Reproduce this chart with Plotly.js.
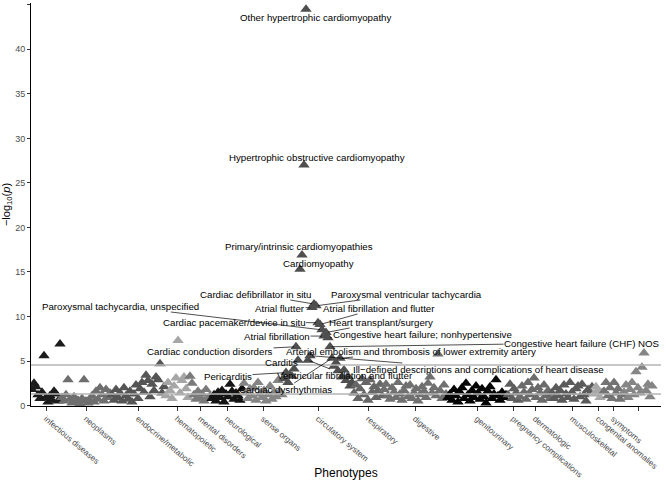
<!DOCTYPE html>
<html><head><meta charset="utf-8">
<script src="https://cdn.plot.ly/plotly-3.0.1.min.js"></script>
<style>html,body{margin:0;padding:0;background:#fff}#chart{width:666px;height:486px}</style>
</head><body><div id="chart"></div>
<script>
// ---------------- DATA ----------------
const categories = ["infectious diseases","neoplasms","endocrine/metabolic","hematopoietic","mental disorders","neurological","sense organs","circulatory system","respiratory","digestive","genitourinary","pregnancy complications","dermatologic","musculoskeletal","congenital anomalies","symptoms","injuries & poisonings"];

const infectious = [1.8, 2.5, 2.1, 1.2, 0.8, 1.5, 5.6, 0.9, 0.4, 1.1, 0.6, 1.6, 1.3, 0.5, 6.9];
const neoplasms = [0.9, 0.5, 1.2, 2.9, 0.7, 0.3, 1.0, 0.4, 0.6, 0.2, 0.8, 2.9, 0.5, 0.3, 0.6, 1.1, 0.4, 1.6, 0.7, 2.0, 1.2, 0.5, 1.8, 0.9, 1.4];
const endocrine = [1.2, 0.6, 1.8, 0.9, 1.4, 0.5, 2.0, 1.1, 0.7, 1.6, 0.4, 1.3, 2.3, 0.8, 1.9, 2.6, 1.5, 3.4, 2.8, 1.0, 2.4, 1.7, 3.2, 2.9, 4.7, 1.4, 2.1];
const hematopoietic = [1.1, 2.6, 1.7, 0.8, 2.2, 3.1, 7.3, 1.4, 2.8, 3.2, 1.9, 0.9];
const mental = [3.3, 2.5, 1.2, 0.7, 1.6, 0.9, 1.3, 0.5, 1.8, 0.8, 1.1];
const neurological = [0.8, 1.2, 0.5, 1.5, 0.9, 1.7, 0.4, 1.3, 1.0, 2.4, 1.6, 0.7, 1.4, 1.1, 0.6, 1.9];
const senseOrgans = [2.5, 1.4, 0.8, 1.9, 1.1, 2.0, 0.6, 2.6, 1.3, 0.9, 1.7, 0.5, 1.2, 2.2, 0.7, 1.5, 1.0, 2.8, 1.6, 1.2];
const circulatory = [3.0, 3.7, 2.6, 3.4, 3.3, 4.1, 6.6, 5.1, 15.3, 16.9, 27.0, 44.5, 5.1, 5.6, 11.0, 11.4, 11.2, 9.3, 9.1, 8.5, 7.8, 8.2, 7.6, 6.6, 5.3, 4.4, 4.8, 3.9, 5.3, 3.2, 4.0, 2.8, 3.3, 2.2, 2.6];
const circulatoryNames = ["", "Pericarditis", "", "", "", "", "Cardiac conduction disorders", "Carditis", "Cardiomyopathy", "Primary/intrinsic cardiomyopathies", "Hypertrophic obstructive cardiomyopathy", "Other hypertrophic cardiomyopathy", "Ventricular fibrillation and flutter", "Ill\u2212defined descriptions and complications of heart disease", "Atrial flutter", "Cardiac defibrillator in situ", "Paroxysmal ventricular tachycardia", "Cardiac pacemaker/device in situ", "Atrial fibrillation and flutter", "Paroxysmal tachycardia, unspecified", "Atrial fibrillation", "Heart transplant/surgery", "Congestive heart failure; nonhypertensive", "Congestive heart failure (CHF) NOS", "Cardiac dysrhythmias", "", "", "", "Arterial embolism and thrombosis of lower extremity artery", "", "", "", "", "", ""];
const respiratory = [1.4, 2.3, 0.8, 1.9, 3.0, 1.2, 2.6, 0.6, 2.9, 1.5, 2.1, 0.9, 1.7, 2.4, 1.1];
const digestive = [1.8, 2.4, 1.1, 0.7, 2.0, 1.5, 0.9, 2.6, 1.3, 0.6, 1.7, 2.2, 1.0, 2.3, 0.8, 1.4, 1.9, 0.5, 1.2, 2.1, 1.6, 0.9, 2.5, 3.2, 1.4, 2.0, 1.1, 5.8, 1.7, 0.8, 2.3, 1.3];
const genitourinary = [0.9, 1.3, 0.6, 1.8, 1.1, 0.4, 1.5, 2.0, 0.8, 2.5, 1.2, 0.5, 1.7, 0.9, 2.2, 1.4, 0.7, 1.9, 1.0, 0.3, 1.6, 2.1, 0.8, 1.3, 2.9, 1.1, 0.6, 1.5, 0.9, 1.2];
const pregnancy = [1.2, 2.4, 0.8, 1.9, 1.4, 0.6];
const dermatologic = [1.0, 2.2, 1.5, 0.7, 2.6, 1.2, 1.8, 3.1, 0.9, 2.0, 1.4, 0.6, 2.3, 1.1, 1.7, 0.8];
const musculoskeletal = [1.4, 0.8, 2.0, 1.1, 1.7, 0.6, 2.3, 1.3, 0.9, 2.6, 1.5, 0.7, 1.9, 2.2, 1.0, 2.4, 1.2, 0.5, 1.8, 1.4, 2.1];
const congenital = [1.3, 2.1, 1.7, 0.9, 1.5];
const symptoms = [1.6, 2.6, 1.1, 2.0, 0.8, 2.6, 1.4, 1.9, 0.7, 1.2];
const injuries = [1.5, 2.3, 0.9, 1.8, 2.6, 1.2, 3.8, 2.0, 1.4, 4.3, 5.9, 1.7, 2.4, 1.0, 2.2];

const bonferroniLine = 4.56;   // -log10(0.05 / number of phenotypes)
const nominalLine = 1.3;       // -log10(0.05)

const seriesValues = [infectious, neoplasms, endocrine, hematopoietic, mental, neurological, senseOrgans, circulatory, respiratory, digestive, genitourinary, pregnancy, dermatologic, musculoskeletal, congenital, symptoms, injuries];

// ---------------- STYLE ----------------
const catColors = ["#1c1c1c","#6e6e6e","#555555","#a6a6a6","#7a7a7a","#141414","#858585","#4f4f4f","#666666","#707070","#050505","#5e5e5e","#6b6b6b","#5a5a5a","#a8a8a8","#737373","#858585"];
const FONT = "'Liberation Sans', Arial, Helvetica, sans-serif";
const L = 31, R = 5, T = 3, B = 80, W = 666, H = 486;
const xRange = [-0.5, 314.5], yRange = [-0.05, 45.2];
const plotW = W - L - R, plotH = H - T - B;
const pxToX = px => xRange[0] + (px - L) / plotW * (xRange[1] - xRange[0]);
const pyToY = py => yRange[1] - (py - T) / plotH * (yRange[1] - yRange[0]);

// label text centre in pixels, and whether a connector line is drawn
const labelPlacement = {
  "Other hypertrophic cardiomyopathy": [315, 17, false],
  "Hypertrophic obstructive cardiomyopathy": [317, 157, false],
  "Primary/intrinsic cardiomyopathies": [299, 246, false],
  "Cardiomyopathy": [318, 263, false],
  "Cardiac defibrillator in situ": [255, 294, true],
  "Paroxysmal ventricular tachycardia": [406, 294, true],
  "Atrial flutter": [280, 308, true],
  "Atrial fibrillation and flutter": [379, 308, true],
  "Paroxysmal tachycardia, unspecified": [120, 306, true],
  "Cardiac pacemaker/device in situ": [234, 322, true],
  "Heart transplant/surgery": [381, 322, true],
  "Atrial fibrillation": [277, 336, true],
  "Congestive heart failure; nonhypertensive": [422, 334, true],
  "Congestive heart failure (CHF) NOS": [582, 343, true],
  "Cardiac conduction disorders": [210, 351, true],
  "Arterial embolism and thrombosis of lower extremity artery": [411, 351, true],
  "Carditis": [281, 362, true],
  "Ill\u2212defined descriptions and complications of heart disease": [478, 369, true],
  "Pericarditis": [228, 376, true],
  "Ventricular fibrillation and flutter": [345, 375, true],
  "Cardiac dysrhythmias": [285, 389, true]
};

// ---------------- BUILD ----------------
const traces = [];
const tickvals = [];
let idx = 0;
let circStart = 0;
seriesValues.forEach((vals, c) => {
  const xs = vals.map((_, i) => idx + i);
  if (c === 7) circStart = idx;
  tickvals.push(xs.reduce((a, b) => a + b, 0) / xs.length);
  traces.push({
    type: "scatter", mode: "markers", x: xs, y: vals, name: categories[c],
    marker: {symbol: "triangle-up", size: 10, color: catColors[c], line: {width: 0}},
    hoverinfo: "x+y+name", showlegend: false
  });
  idx += vals.length;
});

const annotations = [];
circulatoryNames.forEach((nm, i) => {
  if (!nm) return;
  const p = labelPlacement[nm];
  const px = circStart + i, py = circulatory[i];
  if (p[2]) {
    annotations.push({x: px, y: py, xref: "x", yref: "y", text: nm,
      showarrow: true, arrowhead: 0, arrowwidth: 0.7, arrowcolor: "#000", standoff: 2,
      axref: "x", ayref: "y", ax: pxToX(p[0]), ay: pyToY(p[1]),
      font: {family: FONT, size: 9.7, color: "#000"}, borderpad: 0});
  } else {
    annotations.push({x: pxToX(p[0]), y: pyToY(p[1]), xref: "x", yref: "y", text: nm,
      showarrow: false, xanchor: "center", yanchor: "middle",
      font: {family: FONT, size: 9.7, color: "#000"}, borderpad: 0});
  }
});

const shapes = [bonferroniLine, nominalLine].map(v => ({
  type: "line", xref: "paper", x0: 0, x1: 1, yref: "y", y0: v, y1: v,
  line: {color: "#b5b5b5", width: 1.5}, layer: "above"
}));

const layout = {
  width: W, height: H,
  margin: {l: L, r: R, t: T, b: B, pad: 0},
  paper_bgcolor: "#fff", plot_bgcolor: "#fff",
  font: {family: FONT, color: "#000"},
  showlegend: false,
  xaxis: {
    range: xRange, showgrid: false, zeroline: false,
    showline: true, linecolor: "#000", linewidth: 1,
    ticks: "outside", ticklen: 4, tickcolor: "#333", tickwidth: 1,
    tickvals: tickvals, ticktext: categories, tickangle: 40,
    tickfont: {family: FONT, size: 8.2, color: "#4d4d4d"},
    title: {text: "Phenotypes", font: {family: FONT, size: 12, color: "#000"}},
    automargin: false
  },
  yaxis: {
    range: yRange, showgrid: false, zeroline: false,
    showline: true, linecolor: "#000", linewidth: 1,
    ticks: "outside", ticklen: 3, tickcolor: "#333", tickwidth: 1,
    tickvals: [0, 5, 10, 15, 20, 25, 30, 35, 40, 45],
    tickfont: {family: FONT, size: 9, color: "#4d4d4d"},
    title: {text: "\u2212log<sub>10</sub>(<i>p</i>)", font: {family: FONT, size: 11, color: "#000"}, standoff: 4},
    automargin: false
  },
  shapes: shapes,
  annotations: annotations
};

Plotly.newPlot("chart", traces, layout, {displayModeBar: false, staticPlot: true});
</script>
</body></html>
